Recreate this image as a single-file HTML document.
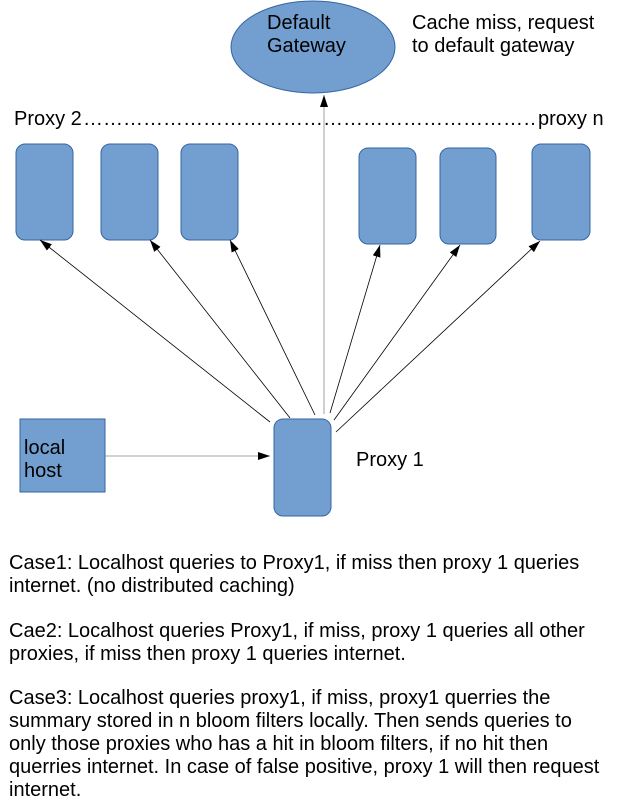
<!DOCTYPE html>
<html><head><style>
body{margin:0;background:#fff;width:622px;height:804px;overflow:hidden;font-family:"Liberation Sans",sans-serif;}
.t{position:absolute;font-size:20px;color:#000;line-height:23px;white-space:nowrap}
</style></head><body>
<svg width="622" height="804" style="position:absolute;left:0;top:0">
<defs><marker id="a" markerWidth="12" markerHeight="8" refX="12" refY="4" orient="auto" markerUnits="userSpaceOnUse"><path d="M0,0L12,4L0,8z" fill="#000"/></marker></defs>
<ellipse cx="313" cy="47" rx="82" ry="46" fill="#729fcf" stroke="#3465a4"/>
<g fill="#729fcf" stroke="#3465a4">
<rect x="16" y="144" width="57" height="96" rx="9"/>
<rect x="101" y="144" width="57" height="96" rx="9"/>
<rect x="181" y="144" width="57" height="96" rx="9"/>
<rect x="359" y="148" width="57" height="96" rx="9"/>
<rect x="440" y="148" width="56" height="96" rx="9"/>
<rect x="532" y="144" width="58" height="96" rx="9"/>
<rect x="274" y="419" width="57" height="97" rx="9"/>
<rect x="20" y="419" width="85" height="73" rx="0"/>
</g>
<g stroke="#000" stroke-width="0.8" marker-end="url(#a)">
<line x1="105" y1="456" x2="270" y2="456" stroke="#888"/>
<line x1="324" y1="414" x2="324" y2="95" stroke="#888"/>
<line x1="270" y1="422" x2="40" y2="240"/>
<line x1="290" y1="418" x2="150" y2="240"/>
<line x1="315" y1="415" x2="230" y2="240"/>
<line x1="330" y1="413" x2="380" y2="245"/>
<line x1="334" y1="420" x2="460" y2="245"/>
<line x1="336" y1="432" x2="540" y2="241"/>
</g>
</svg>
<div class="t" style="left:267px;top:12px">Default<br>Gateway</div>
<div class="t" style="left:412px;top:12px">Cache miss, request<br>to default gateway</div>
<div class="t" style="left:14px;top:108px">Proxy 2</div>
<div class="t" style="left:83px;top:108px;width:455px;overflow:hidden">…………………………………………………………………</div>
<div class="t" style="left:538px;top:108px">proxy n</div>
<div class="t" style="left:24px;top:437px">local<br>host</div>
<div class="t" style="left:356px;top:449px">Proxy 1</div>
<div class="t" style="left:9px;top:552px">Case1: Localhost queries to Proxy1, if miss then proxy 1 queries<br>internet. (no distributed caching)</div>
<div class="t" style="left:9px;top:620px">Cae2: Localhost queries Proxy1, if miss, proxy 1 queries all other<br>proxies, if miss then proxy 1 queries internet.</div>
<div class="t" style="left:9px;top:687px">Case3: Localhost queries proxy1, if miss, proxy1 querries the<br>summary stored in n bloom filters locally. Then sends queries to<br>only those proxies who has a hit in bloom filters, if no hit then<br>querries internet. In case of false positive, proxy 1 will then request<br>internet.</div>
</body></html>
